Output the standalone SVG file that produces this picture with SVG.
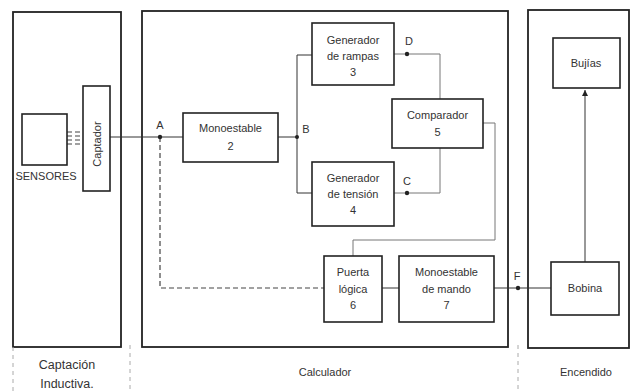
<svg xmlns="http://www.w3.org/2000/svg" width="630" height="392" viewBox="0 0 630 392">
<defs>
<style>
text{font-family:"Liberation Sans",Arial,sans-serif;font-size:11px;fill:#333;text-anchor:middle}
.panel{fill:none;stroke:#222;stroke-width:1.8}
.box{fill:#fff;stroke:#222;stroke-width:1.6}
.ln{fill:none;stroke:#333;stroke-width:1}
.lg{fill:none;stroke:#777;stroke-width:1}
.dash{fill:none;stroke:#444;stroke-width:1.2;stroke-dasharray:5,3}
.sep{fill:none;stroke:#aaa;stroke-width:1;stroke-dasharray:4,4}
.dot{fill:#222}
.lbl{font-size:12.5px}
</style>
<marker id="arr" markerWidth="8" markerHeight="8" refX="6" refY="4" orient="auto" markerUnits="userSpaceOnUse">
<path d="M0,1 L6,4 L0,7 Z" fill="#222"/>
</marker>
</defs>
<rect width="630" height="392" fill="#fff"/>
<g id="panels">
<rect class="panel" x="13" y="12" width="108" height="335"/>
<rect class="panel" x="142" y="11" width="366" height="336"/>
<rect class="panel" x="528" y="10" width="101" height="338"/>
<path class="sep" d="M13 347 V392 M130 345 V392 M518 345 V392"/>
<text class="lbl" x="67" y="369">Captación</text>
<text class="lbl" x="67" y="388">Inductiva.</text>
<text x="325" y="376">Calculador</text>
<text x="586" y="376">Encendido</text>
</g>
<g id="connectors">
<path class="dash" d="M67 132 H83 M67 136 H83 M67 140 H83 M67 144 H83" stroke-dasharray="3,1.5"/>
<path class="ln" d="M110 137 H183"/>
<path class="ln" d="M278 137 H297 M312 55 H297 V193 H312"/>
<path class="lg" d="M394 54 H440 V99"/>
<path class="lg" d="M394 193 H440 V148"/>
<path class="lg" d="M483 123 H495 V240 H353 V256"/>
<path class="dash" d="M160 137 V288 H324"/>
<path class="ln" d="M382 288 H399"/>
<path class="ln" d="M494 288 H551"/>
<path class="ln" d="M585 262 V90" marker-end="url(#arr)"/>
<circle class="dot" cx="160" cy="137" r="2.2"/>
<circle class="dot" cx="297" cy="137" r="2"/>
<circle class="dot" cx="407" cy="54" r="2.2"/>
<circle class="dot" cx="407" cy="193" r="2.2"/>
<circle class="dot" cx="518" cy="288" r="2.2"/>
<text x="160" y="129">A</text>
<text x="306" y="133">B</text>
<text x="409" y="45">D</text>
<text x="407" y="185">C</text>
<text x="517" y="280">F</text>
</g>
<g id="sensores">
<rect class="box" x="22" y="114" width="45" height="51"/>
<text x="46" y="180" font-size="10">SENSORES</text>
</g>
<g id="captador">
<rect class="box" x="83" y="86" width="27" height="105"/>
<text x="96.5" y="144" transform="rotate(-90 96.5 144)" dy="4" font-size="12">Captador</text>
</g>
<g id="monoestable2">
<rect class="box" x="183" y="113" width="95" height="49"/>
<text x="230.5" y="132">Monoestable</text>
<text x="230.5" y="150">2</text>
</g>
<g id="rampas">
<rect class="box" x="312" y="23" width="82" height="62"/>
<text x="353" y="44">Generador</text>
<text x="353" y="60">de rampas</text>
<text x="353" y="76">3</text>
</g>
<g id="tension">
<rect class="box" x="312" y="162" width="82" height="64"/>
<text x="353" y="182">Generador</text>
<text x="353" y="198">de tensión</text>
<text x="353" y="214">4</text>
</g>
<g id="comparador">
<rect class="box" x="392" y="99" width="91" height="49"/>
<text x="437.5" y="119">Comparador</text>
<text x="437.5" y="136">5</text>
</g>
<g id="puerta">
<rect class="box" x="324" y="256" width="58" height="66"/>
<text x="353" y="276">Puerta</text>
<text x="353" y="293">lógica</text>
<text x="353" y="309">6</text>
</g>
<g id="mando">
<rect class="box" x="399" y="256" width="95" height="66"/>
<text x="446.5" y="276">Monoestable</text>
<text x="446.5" y="293">de mando</text>
<text x="446.5" y="309">7</text>
</g>
<g id="bobina">
<rect class="box" x="551" y="262" width="68" height="53"/>
<text x="585" y="292">Bobina</text>
</g>
<g id="bujias">
<rect class="box" x="553" y="38" width="67" height="50"/>
<text x="586" y="67">Bujías</text>
</g>
</svg>
